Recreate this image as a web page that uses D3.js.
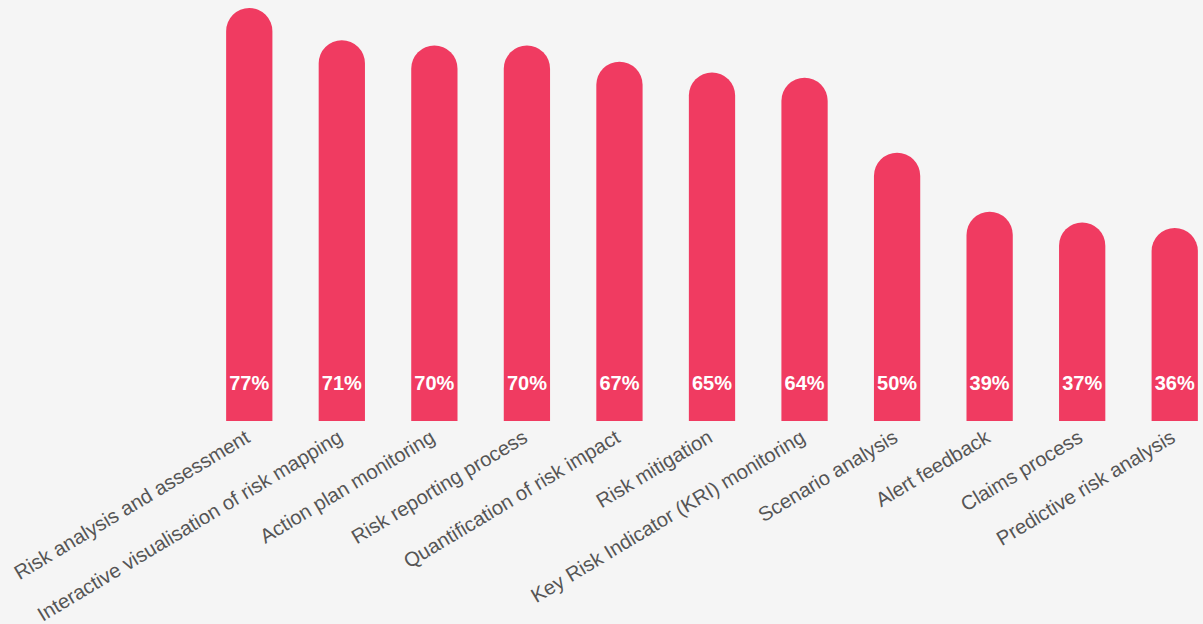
<!DOCTYPE html>
<html>
<head>
<meta charset="utf-8">
<script src="https://cdn.jsdelivr.net/npm/d3@7"></script>
<style>
	html, body { margin: 0; padding: 0; background: #f5f5f5; }
	svg { display: block; }
</style>
</head>
<body>
<div id="chart"></div>
<script>
	var categories = [
		"Risk analysis and assessment",
		"Interactive visualisation of risk mapping",
		"Action plan monitoring",
		"Risk reporting process",
		"Quantification of risk impact",
		"Risk mitigation",
		"Key Risk Indicator (KRI) monitoring",
		"Scenario analysis",
		"Alert feedback",
		"Claims process",
		"Predictive risk analysis"
	];
	var values = [77, 71, 70, 70, 67, 65, 64, 50, 39, 37, 36];

	var width = 1203, height = 624;
	var baseY = 421;
	var barColor = "#f03b61";

	var svg = d3.select("#chart").append("svg")
		.attr("width", width)
		.attr("height", height)
		.style("background", "#f5f5f5");

	var x = d3.scaleBand()
		.domain(categories)
		.range([203, 1221])
		.paddingInner(0.5)
		.paddingOuter(0.25);

	var y = d3.scaleLinear()
		.domain([0, 77])
		.range([baseY, 8]);

	var bw = x.bandwidth();
	var r = bw / 2;

	// bar with a round top
	function barPath(d, i) {
		var x0 = x(categories[i]), top = y(d);
		return "M" + x0 + "," + baseY +
			"V" + (top + r) +
			"A" + r + "," + r + " 0 0 1 " + (x0 + bw) + "," + (top + r) +
			"V" + baseY + "Z";
	}

	svg.append("g").selectAll("path")
		.data(values)
		.enter().append("path")
		.attr("d", barPath)
		.attr("fill", barColor);

	svg.append("g").selectAll("text")
		.data(values)
		.enter().append("text")
		.attr("x", function(d, i) { return x(categories[i]) + r; })
		.attr("y", 390)
		.attr("text-anchor", "middle")
		.attr("fill", "white")
		.style("font-family", "'Liberation Sans', Arial, sans-serif")
		.style("font-weight", "bold")
		.style("font-size", "20px")
		.text(function(d) { return d + "%"; });

	var xAxis = svg.append("g").attr("class", "x-axis");
	xAxis.selectAll("text")
		.data(categories)
		.enter().append("text")
		.attr("transform", function(d) {
			return "translate(" + (x(d) + r + 2) + "," + 441 + ") rotate(-31)";
		})
		.attr("text-anchor", "end")
		.attr("fill", "#555")
		.style("font-family", "'Liberation Sans', Arial, sans-serif")
		.style("font-size", "20.2px")
		.text(function(d) { return d; });
</script>
</body>
</html>
